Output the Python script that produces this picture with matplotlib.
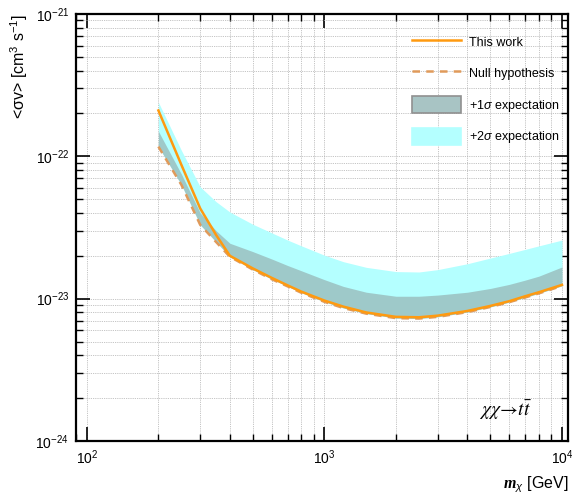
import matplotlib
matplotlib.use("Agg")
import matplotlib.pyplot as plt
import numpy as np
from matplotlib.patches import Patch
from matplotlib.lines import Line2D
from matplotlib.ticker import LogLocator, NullFormatter

plt.rcParams["font.family"] = ["Liberation Sans", "DejaVu Sans"]
plt.rcParams["mathtext.fontset"] = "custom"
plt.rcParams["mathtext.rm"] = "Liberation Sans"
plt.rcParams["mathtext.it"] = "Liberation Sans:italic"
plt.rcParams["mathtext.bf"] = "Liberation Sans:bold"
plt.rcParams["mathtext.bfit"] = "Liberation Serif:italic:bold"

# DM mass points [GeV]
mass = [200, 250, 300, 350, 400, 500, 600, 700, 800, 1000, 1200, 1500,
        2000, 2500, 3000, 4000, 5000, 6000, 7000, 8000, 10000]

# observed limit ("This work")
this_work = [2.1e-22, 8.7e-23, 4.3e-23, 2.8e-23, 2.0e-23, 1.63e-23, 1.4e-23,
             1.24e-23, 1.12e-23, 9.7e-24, 8.8e-24, 8.0e-24, 7.45e-24, 7.4e-24,
             7.6e-24, 8.2e-24, 8.9e-24, 9.6e-24, 1.04e-23, 1.11e-23, 1.25e-23]

# null hypothesis (expected)
null_hyp = [1.17e-22, 6.3e-23, 3.3e-23, 2.5e-23, 1.97e-23, 1.6e-23, 1.37e-23,
            1.22e-23, 1.1e-23, 9.5e-24, 8.6e-24, 7.85e-24, 7.3e-24, 7.25e-24,
            7.45e-24, 8.05e-24, 8.75e-24, 9.45e-24, 1.02e-23, 1.09e-23, 1.23e-23]

# upper edges of the expectation bands
band_1sigma = [1.5e-22, 7.5e-23, 4.0e-23, 3.0e-23, 2.45e-23, 2.14e-23, 1.9e-23,
               1.71e-23, 1.57e-23, 1.36e-23, 1.22e-23, 1.11e-23, 1.04e-23,
               1.04e-23, 1.06e-23, 1.11e-23, 1.18e-23, 1.26e-23, 1.35e-23,
               1.44e-23, 1.67e-23]
band_2sigma = [2.4e-22, 1.1e-22, 6.1e-23, 4.8e-23, 4.06e-23, 3.33e-23, 2.9e-23,
               2.58e-23, 2.35e-23, 2.02e-23, 1.82e-23, 1.66e-23, 1.55e-23,
               1.54e-23, 1.6e-23, 1.76e-23, 1.93e-23, 2.08e-23, 2.22e-23,
               2.35e-23, 2.58e-23]

x_ticks = [1e2, 1e3, 1e4]
y_ticks = [1e-24, 1e-23, 1e-22, 1e-21]


fig = plt.figure(figsize=(5.72, 4.99), dpi=100)
ax = fig.add_axes([0.1329, 0.1162, 0.8601, 0.8558])

# bands: cyan (2 sigma) under semi transparent grey (1 sigma)
ax.fill_between(mass, null_hyp, band_2sigma, color="#b4ffff", lw=0, zorder=2)
ax.fill_between(mass, null_hyp, band_1sigma, color="#808080", alpha=0.42,
                lw=0, zorder=3)

ax.plot(mass, null_hyp, color="#e09a5a", lw=1.8, ls=(0, (3, 2.5)), zorder=4)
ax.plot(mass, this_work, color="#ff9a10", lw=1.8, zorder=5)

ax.set_xscale("log")
ax.set_yscale("log")
ax.set_xlim(90, 10600)
ax.set_ylim(1e-24, 1e-21)
ax.set_xticks(x_ticks)
ax.set_yticks(y_ticks)

ax.xaxis.set_minor_locator(LogLocator(base=10, subs=np.arange(2, 10)))
ax.yaxis.set_minor_locator(LogLocator(base=10, subs=np.arange(2, 10)))
ax.xaxis.set_minor_formatter(NullFormatter())
ax.yaxis.set_minor_formatter(NullFormatter())

ax.grid(True, which="both", color="#b0b0b0", ls=(0, (1, 1.2)), lw=0.6,
        zorder=0)
ax.set_axisbelow(True)

ax.tick_params(which="both", direction="in", top=True, right=True,
               labelsize=10, colors="black", pad=5)
ax.tick_params(which="major", length=10, width=1.2)
ax.tick_params(which="minor", length=5, width=1.0)
for spine in ax.spines.values():
    spine.set_linewidth(1.6)

ax.set_xlabel(r"$\mathbfit{m}_{\chi}$ [GeV]", fontsize=11.5, loc="right",
              labelpad=6)
ax.set_ylabel(r"<σv> [cm$^{3}$ s$^{-1}$]", fontsize=11.5, loc="top",
              labelpad=4)

ax.text(0.872, 0.073, r"$\chi\chi\!\rightarrow\! t\bar{t}$", transform=ax.transAxes,
        fontsize=14, ha="center", va="center", math_fontfamily="stix")

handles = [
    Line2D([], [], color="#ff9a10", lw=1.8),
    Line2D([], [], color="#e09a5a", lw=1.8, ls=(0, (3, 2.5))),
    Patch(facecolor="#a8c4c4", edgecolor="#909090", lw=1.2),
    Patch(facecolor="#b4ffff", edgecolor="#b4ffff", lw=1.2),
]
labels = ["This work", "Null hypothesis", r"+1$\sigma$ expectation",
          r"+2$\sigma$ expectation"]
ax.legend(handles, labels, loc="upper right", bbox_to_anchor=(0.982, 0.955),
          frameon=False, fontsize=9, handlelength=3.9, handleheight=1.76,
          labelspacing=1.12, handletextpad=0.64, borderpad=0,
          borderaxespad=0)

fig.savefig("out.png", dpi=100)
